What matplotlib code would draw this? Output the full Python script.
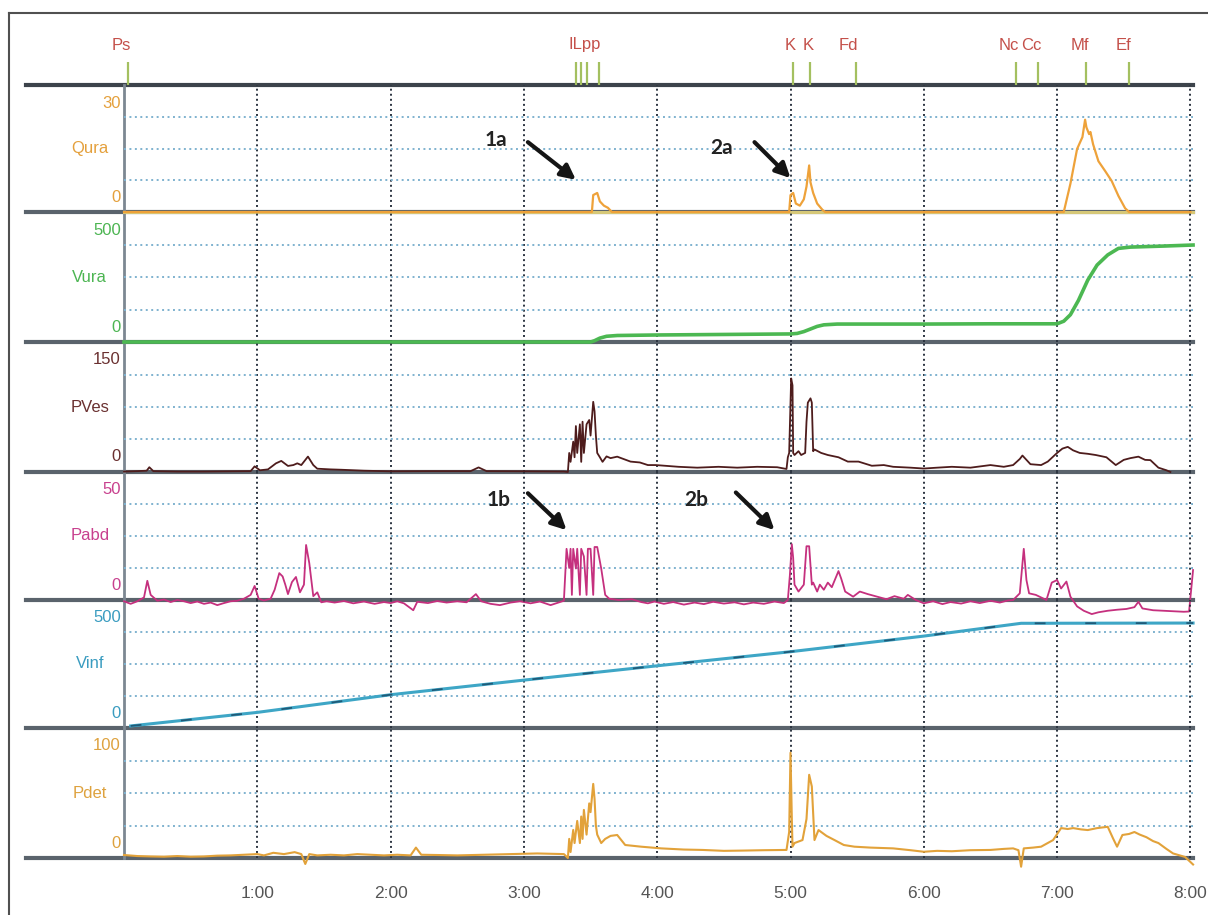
import matplotlib
matplotlib.use('Agg')
import matplotlib.pyplot as plt
from matplotlib.lines import Line2D

plt.rcParams['font.family'] = ['Liberation Sans', 'DejaVu Sans']

# figure size in pixels and plot geometry (pixels)
W, H = 1208, 915
LEFT = 124
PX_PER_MIN = 133.3
T_MAX = 8.02
RIGHT = LEFT + T_MAX * PX_PER_MIN
PANEL_EDGES = [85, 212, 342, 472, 600, 728, 858]

# channels
channel_names = ['Qura', 'Vura', 'PVes', 'Pabd', 'Vinf', 'Pdet']
channel_max = [30, 500, 150, 50, 500, 100]
channel_colors = ['#e4a03c', '#4cb552', '#6a3030', '#c8408e', '#3a9cc0', '#dea23e']
line_colors = ['#eea23a', '#4cb852', '#4e1c1c', '#c5307e', '#3ea6c6', '#e2a23a']
line_widths = [1.6, 2.6, 1.3, 1.3, 2.2, 1.5]

# event markers on top strip
marker_times = [0.03, 3.39, 3.43, 3.47, 3.56, 5.02, 5.15, 5.49, 6.69, 6.86, 7.22, 7.54]
marker_labels = ['Ps', '', '', '', 'ILpp', 'K', 'K', 'Fd', 'Nc', 'Cc', 'Mf', 'Ef']

# time axis labels
time_ticks = [1, 2, 3, 4, 5, 6, 7, 8]
time_labels = ['1:00', '2:00', '3:00', '4:00', '5:00', '6:00', '7:00', '8:00']

# Qura - uroflow (ml/s)
qura_t = [0, 3.51, 3.52, 3.55, 3.57, 3.60, 3.63, 3.66, 4.99, 5.00, 5.02, 5.04,
          5.07, 5.10, 5.12, 5.14, 5.15, 5.17, 5.20, 5.24, 5.26, 7.05, 7.10, 7.15,
          7.19, 7.21, 7.22, 7.24, 7.25, 7.27, 7.31, 7.36, 7.41, 7.46, 7.51, 7.54, 8.0]
qura_v = [0, 0, 4, 4.5, 2.5, 1.5, 1, 0, 0, 4, 4.5, 2,
          1.5, 3, 6, 11, 7, 4.5, 2, 0.5, 0, 0, 6.7, 14.9,
          17.7, 21.8, 20, 18.4, 18.9, 16, 12, 9.7, 7.3, 3.8, 0.9, 0, 0]

# Vura - voided volume (ml)
vura_t = [0, 3.50, 3.53, 3.57, 3.62, 3.70, 4.0, 4.5, 5.0, 5.05, 5.10, 5.15, 5.20,
          5.25, 5.35, 6.0, 6.5, 7.0, 7.05, 7.10, 7.16, 7.23, 7.30, 7.38, 7.46,
          7.55, 7.8, 8.02]
vura_v = [0, 0, 5, 15, 22, 25, 27, 29, 31, 33, 40, 50, 60,
          66, 69, 69, 70, 70, 80, 105, 160, 238, 296, 335, 360,
          365, 369, 373]

# PVes - vesical pressure (cmH2O)
pves_t = [0.0, 0.1, 0.17, 0.19, 0.22, 0.4, 0.6, 0.8, 0.95, 0.98, 1.02, 1.08,
          1.14, 1.18, 1.23, 1.27, 1.30, 1.33, 1.38, 1.42, 1.45, 1.55, 1.63, 1.8,
          2.0, 2.3, 2.6, 2.66, 2.72, 3.0, 3.3, 3.33, 3.34, 3.35, 3.37, 3.38,
          3.39, 3.40, 3.42, 3.43, 3.44, 3.45, 3.47, 3.49, 3.50, 3.52, 3.53, 3.54,
          3.55, 3.57, 3.59, 3.62, 3.65, 3.70, 3.80, 3.87, 3.93, 3.99, 4.16, 4.3,
          4.46, 4.6, 4.75, 4.9, 4.97, 4.98, 4.99, 5.005, 5.015, 5.02, 5.03, 5.06,
          5.08, 5.11, 5.12, 5.13, 5.15, 5.16, 5.17, 5.18, 5.23, 5.28, 5.36, 5.43,
          5.51, 5.61, 5.7, 5.77, 5.9, 6.0, 6.1, 6.21, 6.35, 6.5, 6.6, 6.67,
          6.72, 6.74, 6.77, 6.8, 6.88, 6.93, 6.97, 7.0, 7.04, 7.08, 7.12, 7.17,
          7.23, 7.29, 7.37, 7.44, 7.5, 7.55, 7.61, 7.66, 7.70, 7.76, 7.82, 7.85]
pves_v = [0.5, 1, 1.5, 5.5, 1, 0.5, 0.5, 0.8, 1, 6.5, 2, 3,
          10, 12.8, 7, 8, 10, 8, 17.8, 8, 3.8, 3, 2.6, 1.5,
          0.8, 1, 1, 5.3, 1, 0.8, 0.5, 0, 22, 11.7, 35, 17,
          53, 22, 55, 11.7, 58, 22, 55, 60, 42, 81, 70, 42,
          22, 17, 11.7, 18, 16, 17.7, 12, 11, 8, 8, 6, 5,
          6, 5, 6, 5.5, 3.5, 17, 22, 108, 100, 22, 19.6, 24,
          19.6, 22, 58, 80, 85, 80, 24, 26, 22, 19.6, 17, 12,
          12, 7.2, 8, 6, 5, 4, 5, 6, 5, 8, 6, 8,
          15, 19, 14, 9, 8, 12, 17.7, 22, 27, 29, 25, 22,
          21, 19.6, 17, 8, 14, 16, 17.7, 14, 13.7, 5, 2, 0]

# Pabd - abdominal pressure (cmH2O)
pabd_t = [0.0, 0.05, 0.1, 0.15, 0.175, 0.2, 0.25, 0.3, 0.35, 0.4, 0.45, 0.5,
          0.55, 0.6, 0.65, 0.7, 0.75, 0.8, 0.85, 0.9, 0.95, 0.98, 1.01, 1.05,
          1.1, 1.13, 1.165, 1.19, 1.21, 1.23, 1.26, 1.29, 1.32, 1.35, 1.366, 1.39,
          1.42, 1.45, 1.48, 1.52, 1.58, 1.65, 1.72, 1.8, 1.88, 1.95, 2.0, 2.05,
          2.1, 2.17, 2.2, 2.28, 2.35, 2.42, 2.5, 2.57, 2.64, 2.68, 2.75, 2.82,
          2.9, 2.97, 3.05, 3.12, 3.2, 3.26, 3.3, 3.32, 3.34, 3.35, 3.36, 3.37,
          3.39, 3.40, 3.42, 3.43, 3.45, 3.47, 3.48, 3.50, 3.52, 3.53, 3.55, 3.58,
          3.61, 3.64, 3.71, 3.81, 3.88, 3.93, 3.98, 4.05, 4.12, 4.2, 4.28, 4.35,
          4.42, 4.5, 4.58, 4.65, 4.72, 4.8, 4.88, 4.95, 4.98, 4.995, 5.01, 5.02,
          5.03, 5.06, 5.10, 5.12, 5.14, 5.16, 5.17, 5.20, 5.22, 5.25, 5.28, 5.31,
          5.36, 5.38, 5.41, 5.47, 5.52, 5.58, 5.65, 5.72, 5.78, 5.85, 5.88, 5.94,
          6.0, 6.07, 6.14, 6.2, 6.28, 6.35, 6.42, 6.5, 6.57, 6.63, 6.67, 6.72,
          6.75, 6.77, 6.79, 6.84, 6.88, 6.92, 6.96, 7.0, 7.03, 7.07, 7.10, 7.15,
          7.2, 7.26, 7.31, 7.38, 7.45, 7.52, 7.58, 7.61, 7.64, 7.72, 7.8, 7.88,
          7.95, 7.99, 8.02]
pabd_v = [-0.5, -1.5, -0.5, 1, 7.5, 2, -0.3, 0.2, -0.8, 0, -0.5, -1.2,
          -0.6, -1.5, -1, -2, -1.2, -0.5, -0.3, 0.5, 2, 5.5, 0.5, -0.2,
          0.5, 4, 10.5, 9.2, 6, 2.3, 7, 9, 3, 6, 21.5, 14.4,
          1.5, 3, -0.9, -0.5, -1, -0.4, -1.3, -0.6, -1.5, -0.8, -1.2, -0.5,
          -1.3, -4, -0.7, -1.2, -0.4, -1, -0.5, -0.9, 2.3, -0.5, -1.5, -2,
          -1, -0.5, -1.3, -0.6, -2, -1, -0.3, 20, 12.5, 20, 2, 20,
          12.3, 20, 2, 20, 17, 2, 20, 20, 2, 20.7, 20.7, 12.3,
          2, 0.5, 0, 0.3, -0.8, -1.3, -0.6, -1.5, -0.8, -1.8, -1, -1.6,
          -0.7, -1.4, -0.9, -1.7, -1, -1.5, -0.6, -1.2, 0, 9.5, 21.8, 16.5,
          6, 3.3, 6, 21, 21, 6, 6.8, 3.3, 6, 4, 6.8, 5,
          11.3, 8.4, 3.3, 1.3, 3.3, 2.3, 1.3, 0.3, 1.5, 0.5, 2, 0,
          -1.3, -0.5, -1.6, -0.8, -1.4, -0.5, -1.2, -0.3, -1, -0.2, 0, 2.6,
          20, 7.8, 2.6, 2, 1, 0, 6.8, 7.8, 4.5, 7.2, 1.3, -2.5,
          -4.2, -5.5, -4.8, -4.2, -3.8, -3.5, -2.8, -0.7, -3.3, -4, -4.2, -4.4,
          -4.6, -4.5, 11.7]

# Vinf - infused volume (ml)
vinf_t = [0.05, 1.0, 2.0, 3.0, 4.0, 5.0, 6.0, 6.73, 8.02]
vinf_v = [8, 61, 130, 187, 243, 298, 359, 409, 410]

# Pdet - detrusor pressure (cmH2O)
pdet_t = [0, 0.1, 0.2, 0.3, 0.4, 0.5, 0.6, 0.7, 0.8, 0.9, 1.0, 1.05,
          1.12, 1.2, 1.28, 1.33, 1.36, 1.39, 1.45, 1.55, 1.65, 1.75, 1.85, 1.95,
          2.05, 2.15, 2.19, 2.23, 2.35, 2.5, 2.7, 2.9, 3.1, 3.3, 3.33, 3.34,
          3.35, 3.37, 3.38, 3.40, 3.42, 3.43, 3.44, 3.45, 3.47, 3.49, 3.50, 3.52,
          3.53, 3.54, 3.55, 3.58, 3.61, 3.65, 3.70, 3.76, 3.88, 4.03, 4.2, 4.34,
          4.5, 4.64, 4.8, 4.97, 4.99, 5.0, 5.01, 5.015, 5.03, 5.09, 5.12, 5.14,
          5.16, 5.18, 5.21, 5.27, 5.33, 5.40, 5.48, 5.6, 5.77, 5.9, 6.0, 6.1,
          6.21, 6.35, 6.5, 6.6, 6.67, 6.71, 6.73, 6.75, 6.82, 6.88, 6.97, 7.03,
          7.08, 7.12, 7.18, 7.23, 7.3, 7.38, 7.42, 7.45, 7.49, 7.54, 7.58, 7.62,
          7.67, 7.72, 7.76, 7.82, 7.87, 7.96, 8.02]
pdet_v = [2.3, 1.5, 1.2, 1, 1.5, 1, 1.2, 1.8, 2, 2.5, 3, 2,
          4, 3, 4.5, 3, -4.6, 3, 2, 2.5, 2, 3, 2.5, 2,
          2.5, 2, 8, 2.5, 2.3, 2, 2.5, 3, 3.5, 3, 0, 14.7,
          4.6, 21.6, 11.5, 28.5, 11.5, 31.9, 14.7, 37, 18, 42, 35.3, 57,
          45.5, 25, 18, 11.5, 14.7, 17, 17.7, 10, 8.7, 7.4, 6.5, 6.2,
          5.5, 5.7, 6, 6.2, 20, 81, 30, 8.7, 11.5, 13.8, 30, 64,
          55, 13.8, 21.5, 17, 13.8, 10, 8.7, 8, 7.4, 6, 4.8, 5.5,
          5.2, 6, 6.2, 7, 7.4, 6, -6.7, 7.4, 8, 8.7, 13.8, 23,
          22.3, 23, 22, 21.5, 23, 24, 15, 8.7, 17.7, 18.5, 20, 18,
          16, 13, 11.5, 7, 3.5, 0.8, -5]

series_t = [qura_t, vura_t, pves_t, pabd_t, vinf_t, pdet_t]
series_v = [qura_v, vura_v, pves_v, pabd_v, vinf_v, pdet_v]

# arrow annotations: (text, panel, text pos, arrow tail, arrow head)
notes = [('1a', 0, (2.79, 17), (3.03, 16.5), (3.39, 7.6)),
         ('2a', 0, (4.48, 15), (4.73, 16.5), (5.00, 8.0)),
         ('1b', 3, (2.81, 39), (3.03, 41.7), (3.32, 27.3)),
         ('2b', 3, (4.29, 39), (4.59, 42.0), (4.88, 27.3))]


def fig_rect(top_px, bottom_px):
    return [LEFT / W, 1 - bottom_px / H, (RIGHT - LEFT) / W, (bottom_px - top_px) / H]


def add_hline(fig, y_px, x0_px, x1_px, color, lw):
    fig.add_artist(Line2D([x0_px / W, x1_px / W], [1 - y_px / H, 1 - y_px / H],
                          transform=fig.transFigure, color=color, lw=lw, zorder=-5))


def add_vline(fig, x_px, y0_px, y1_px, color, lw):
    fig.add_artist(Line2D([x_px / W, x_px / W], [1 - y0_px / H, 1 - y1_px / H],
                          transform=fig.transFigure, color=color, lw=lw, zorder=-5))


def draw_panel(fig, i):
    top, bottom = PANEL_EDGES[i], PANEL_EDGES[i + 1]
    ax = fig.add_axes(fig_rect(top, bottom))
    ax.patch.set_visible(False)
    for s in ax.spines.values():
        s.set_visible(False)
    ymax = channel_max[i]
    ax.set_xlim(0, T_MAX)
    ax.set_ylim(0, ymax)
    ax.set_xticks(time_ticks)
    ax.set_yticks([ymax / 4, ymax / 2, ymax * 3 / 4])
    ax.tick_params(length=0, labelleft=False, labelbottom=False)
    ax.grid(axis='x', color='#2c3440', lw=1.4, ls=(0, (1, 1.6)))
    ax.grid(axis='y', color='#7fb2cf', lw=1.4, ls=(0, (1, 1.8)))
    ax.set_axisbelow(True)

    if i == 0:
        ax.axhline(0, color='#d6c878', lw=2.2, clip_on=False, zorder=1.5)

    ax.plot(series_t[i], series_v[i], color=line_colors[i], lw=line_widths[i],
            clip_on=False, zorder=3)
    if i == 4:
        # dark dashes seen on the infused volume trace
        ax.plot(series_t[i], series_v[i], color='#1f5a78', lw=1.3,
                ls=(0, (6, 22)), clip_on=False, zorder=3.5)

    h = bottom - top
    c = channel_colors[i]
    ax.text(-0.003, 1 - 18 / h, str(ymax), transform=ax.transAxes, ha='right',
            va='center', fontsize=12, color=c)
    ax.text(-0.003, 15 / h, '0', transform=ax.transAxes, ha='right',
            va='center', fontsize=12, color=c)
    ax.text(-0.032, 0.5, channel_names[i], transform=ax.transAxes, ha='center',
            va='center', fontsize=12, color=c)
    return ax


def draw_markers(fig):
    ax = fig.add_axes(fig_rect(25, PANEL_EDGES[0]))
    ax.set_axis_off()
    ax.set_xlim(0, T_MAX)
    ax.set_ylim(0, 1)
    h = PANEL_EDGES[0] - 25
    ax.vlines(marker_times, 0, 23 / h, color='#a4c060', lw=1.6)
    for t, lab in zip(marker_times, marker_labels):
        if lab:
            ax.annotate(lab, xy=(t, 1 - 20 / h), xytext=(2, 0),
                        textcoords='offset points', ha='right', va='center',
                        fontsize=12, color='#c4504a')


def main():
    fig = plt.figure(figsize=(W / 100, H / 100), dpi=100)

    # outer frame
    add_hline(fig, 13, 9, W, '#505050', 1.5)
    add_vline(fig, 9, 13, H, '#505050', 1.5)

    # panel separators and left axis
    for k, y in enumerate(PANEL_EDGES):
        col = '#3c434b' if k == 0 else '#5a636c'
        add_hline(fig, y, 26, RIGHT, col, 3)
    add_vline(fig, LEFT, PANEL_EDGES[0], PANEL_EDGES[-1], '#7c8792', 2)

    draw_markers(fig)
    axes = [draw_panel(fig, i) for i in range(len(channel_names))]

    bottom_ax = axes[-1]
    bottom_ax.set_xticklabels(time_labels)
    bottom_ax.tick_params(axis='x', labelbottom=True, pad=20, labelsize=12.5,
                          labelcolor='#555555')

    for text, panel, txy, tail, head in notes:
        ax = axes[panel]
        ax.text(txy[0], txy[1], text, ha='center', va='center', fontsize=15,
                fontweight='bold', family=['Lato', 'DejaVu Sans'], color='#222222',
                zorder=6)
        ax.annotate('', xy=head, xytext=tail, annotation_clip=False, zorder=6,
                    arrowprops=dict(arrowstyle='-|>', color='#151515', lw=3,
                                    mutation_scale=22, shrinkA=0, shrinkB=0))

    fig.savefig('out.png', dpi=100)


if __name__ == "__main__":
    main()
